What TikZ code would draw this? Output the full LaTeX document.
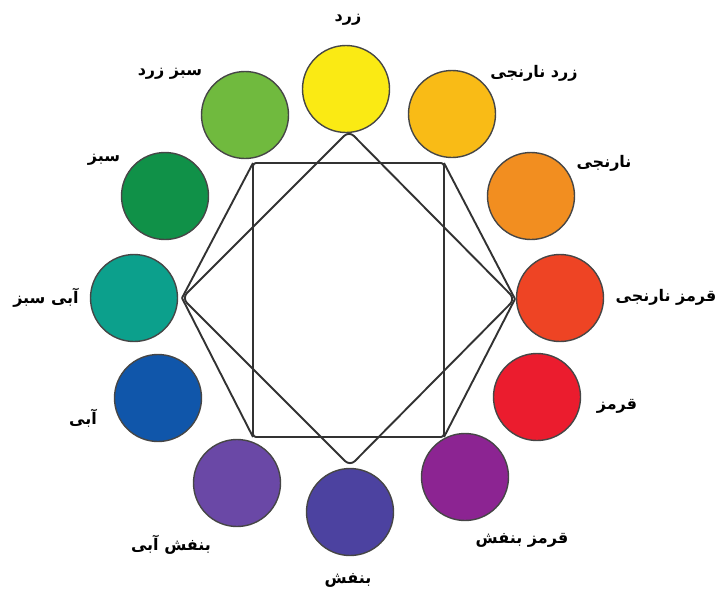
\documentclass[tikz,border=0pt]{standalone}
\usepackage{fontspec}
\newfontfamily\arabicfont[Script=Arabic]{DejaVu Sans}
\TeXXeTstate=1
\newcommand\myrtl[1]{\beginR #1\endR}
\definecolor{cY}{RGB}{250,234,20}
\definecolor{cYO}{RGB}{249,187,22}
\definecolor{cO}{RGB}{242,142,32}
\definecolor{cRO}{RGB}{238,68,36}
\definecolor{cR}{RGB}{235,28,46}
\definecolor{cRV}{RGB}{140,36,146}
\definecolor{cV}{RGB}{76,66,160}
\definecolor{cBV}{RGB}{106,72,166}
\definecolor{cB}{RGB}{16,86,170}
\definecolor{cBG}{RGB}{12,160,140}
\definecolor{cG}{RGB}{16,145,72}
\definecolor{cYG}{RGB}{112,186,62}
\definecolor{lineclr}{RGB}{50,50,50}
\definecolor{rimclr}{RGB}{70,70,70}
\begin{document}
\begin{tikzpicture}[x=1pt,y=-1pt,
  clr/.style={circle, draw=rimclr, line width=1.4pt, minimum size=87pt, inner sep=0pt},
  lbl/.style={font=\arabicfont\bfseries\fontsize{16}{18}\selectfont, inner sep=0pt, text=black},
  edge/.style={draw=lineclr, line width=1.9pt, line join=round}]
\useasboundingbox (0,0) rectangle (719,594);
% geometry coordinates
\coordinate (TL) at (253,163);
\coordinate (TR) at (444,163);
\coordinate (BR) at (444,437);
\coordinate (BL) at (253,437);
\coordinate (L) at (182,298);
\coordinate (R) at (515,299);
\coordinate (T) at (349,131);
\coordinate (B) at (350,466);
% rectangle
\draw[edge, rounded corners=3pt] (TL) -- (TR) -- (BR) -- (BL) -- cycle;
% diamond
\draw[edge, rounded corners=7pt] (L) -- (T) -- (R) -- (B) -- cycle;
% side connectors
\draw[edge] (L) -- (TL);
\draw[edge] (L) -- (BL);
\draw[edge] (R) -- (TR);
\draw[edge] (R) -- (BR);
% colour circles
\node[clr, fill=cY]  (Y)  at (346,89)  {};
\node[clr, fill=cYO] (YO) at (452,114) {};
\node[clr, fill=cO]  (O)  at (531,196) {};
\node[clr, fill=cRO] (RO) at (560,298) {};
\node[clr, fill=cR]  (Rd) at (537,397) {};
\node[clr, fill=cRV] (RV) at (465,477) {};
\node[clr, fill=cV]  (V)  at (350,512) {};
\node[clr, fill=cBV] (BV) at (237,483) {};
\node[clr, fill=cB]  (Bl) at (158,398) {};
\node[clr, fill=cBG] (BG) at (134,298) {};
\node[clr, fill=cG]  (G)  at (165,196) {};
\node[clr, fill=cYG] (YG) at (245,115) {};
% labels
\node[lbl] (tY)  at (348,20)  {\myrtl{زرد}};
\node[lbl] (tYG) at (170,74)  {\myrtl{سبز زرد}};
\node[lbl] (tYO) at (534,73)  {\myrtl{زرد نارنجی}};
\node[lbl] (tG)  at (104,160) {\myrtl{سبز}};
\node[lbl] (tO)  at (604,163) {\myrtl{نارنجی}};
\node[lbl] (tBG) at (46,298)  {\myrtl{آبی سبز}};
\node[lbl] (tRO) at (666,297) {\myrtl{قرمز نارنجی}};
\node[lbl] (tB)  at (83,418)  {\myrtl{آبی}};
\node[lbl] (tR)  at (617,406) {\myrtl{قرمز}};
\node[lbl] (tBV) at (171,545) {\myrtl{بنفش آبی}};
\node[lbl] (tRV) at (522,540) {\myrtl{قرمز بنفش}};
\node[lbl] (tV)  at (348,580) {\myrtl{بنفش}};
\end{tikzpicture}
\end{document}
